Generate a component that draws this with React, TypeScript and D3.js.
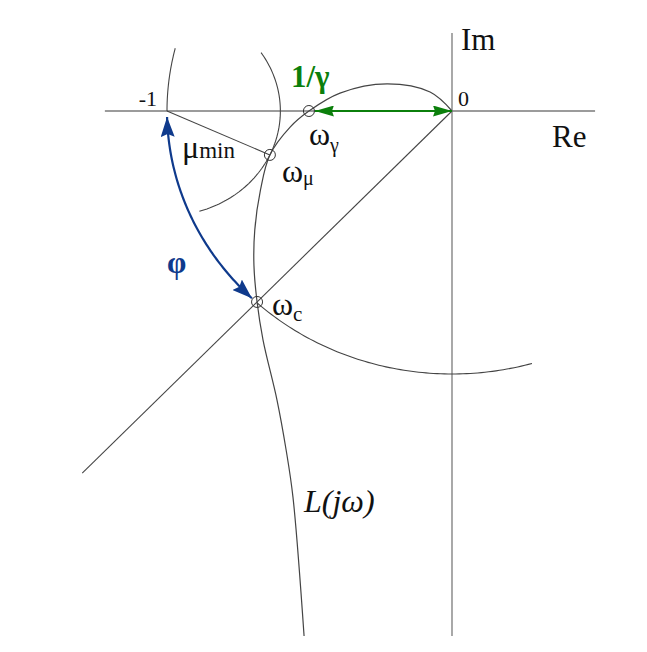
import React from "react";
import * as d3 from "d3";

// ---- data (complex plane units) ----
const reAxisRange = [-1.218, 0.502];
const imAxisRange = [-1.996, 0.297];

// Nyquist curve L(jω): real and imaginary parts
const nyqRe = [0, -0.077, -0.228, -0.393, -0.502, -0.568, -0.639, -0.672, -0.692, -0.695, -0.684, -0.663, -0.614, -0.582, -0.558, -0.519];
const nyqIm = [0, 0.072, 0.103, 0.068, 0, -0.061, -0.167, -0.3, -0.452, -0.586, -0.726, -0.871, -1.099, -1.289, -1.468, -1.996];

const omegaGamma = [-0.502, 0];
const omegaMu = [-0.639, -0.167];
const omegaC = [-0.684, -0.726];
const criticalPoint = [-1, 0];

// unit circle arcs (degrees)
const unitArcUpper = [166.2, 180];
const unitArcLower = [226.9, 286.3];
const phaseArc = [181.3, 225.4];
// μ circle arc around -1 (degrees)
const muArc = [33.9, -73.4];
// ray from origin through ωc, length
const rayLength = 1.892;

const W = 647;
const H = 652;

const x = d3.scaleLinear().domain([-1, 0]).range([167, 452]);
const y = d3.scaleLinear().domain([0, -1]).range([111, 374]);

const rad = (d: number) => (d * Math.PI) / 180;

function arcPath(cx: number, cy: number, r: number, a0: number, a1: number) {
  const n = 80;
  const pts: [number, number][] = d3.range(n + 1).map((i) => {
    const a = rad(a0 + ((a1 - a0) * i) / n);
    return [cx + r * Math.cos(a), cy + r * Math.sin(a)];
  });
  return d3
    .line<[number, number]>()
    .x((p) => x(p[0]))
    .y((p) => y(p[1]))(pts) as string;
}

export default function App() {
  const serif = "'Liberation Serif', 'Times New Roman', serif";
  const axisColor = "#7a7a7a";
  const curveColor = "#444";
  const blue = "#0f3a8c";
  const green = "#0b7f0b";

  const nyqPts: [number, number][] = nyqRe.map((r, i) => [r, nyqIm[i]]);
  const nyqPath = d3
    .line<[number, number]>()
    .x((p) => x(p[0]))
    .y((p) => y(p[1]))
    .curve(d3.curveCatmullRom.alpha(0.5))(nyqPts) as string;

  const muR = Math.hypot(omegaMu[0] - criticalPoint[0], omegaMu[1] - criticalPoint[1]);
  const cAng = Math.atan2(omegaC[1], omegaC[0]);
  const rayEnd = [rayLength * Math.cos(cAng), rayLength * Math.sin(cAng)];

  return (
    <svg width={W} height={H} style={{ position: "absolute", left: 0, top: 0, background: "#fff" }}>
      <defs>
        <marker id="ab" viewBox="0 0 20 14" refX="20" refY="7" markerWidth="20" markerHeight="14" markerUnits="userSpaceOnUse" orient="auto-start-reverse">
          <path d="M0,0 L20,7 L0,14 L3,7 Z" fill={blue} />
        </marker>
        <marker id="ag" viewBox="0 0 19 11" refX="19" refY="5.5" markerWidth="19" markerHeight="11" markerUnits="userSpaceOnUse" orient="auto-start-reverse">
          <path d="M0,0 L19,5.5 L0,11 L2,5.5 Z" fill={green} />
        </marker>
      </defs>

      {/* axes */}
      <line x1={x(reAxisRange[0])} x2={x(reAxisRange[1])} y1={y(0)} y2={y(0)} stroke={axisColor} strokeWidth={1.3} />
      <line x1={x(0)} x2={x(0)} y1={y(imAxisRange[1])} y2={y(imAxisRange[0])} stroke={axisColor} strokeWidth={1.3} />

      {/* ray through ωc */}
      <line x1={x(0)} y1={y(0)} x2={x(rayEnd[0])} y2={y(rayEnd[1])} stroke={curveColor} strokeWidth={1.1} />

      {/* unit circle arcs */}
      <path d={arcPath(0, 0, 1, unitArcUpper[0], unitArcUpper[1])} fill="none" stroke={curveColor} strokeWidth={1.1} />
      <path d={arcPath(0, 0, 1, unitArcLower[0], unitArcLower[1])} fill="none" stroke={curveColor} strokeWidth={1.1} />

      {/* μ circle */}
      <path d={arcPath(criticalPoint[0], criticalPoint[1], muR, muArc[0], muArc[1])} fill="none" stroke={curveColor} strokeWidth={1.1} />
      <line x1={x(criticalPoint[0])} y1={y(criticalPoint[1])} x2={x(omegaMu[0])} y2={y(omegaMu[1])} stroke={curveColor} strokeWidth={1.1} />

      {/* Nyquist curve */}
      <path d={nyqPath} fill="none" stroke={curveColor} strokeWidth={1.2} />

      {/* phase margin arc */}
      <path d={arcPath(0, 0, 1, phaseArc[0], phaseArc[1])} fill="none" stroke={blue} strokeWidth={2.2} markerStart="url(#ab)" markerEnd="url(#ab)" />

      {/* gain margin arrow */}
      <line x1={x(omegaGamma[0]) + 6} y1={y(0)} x2={x(0)} y2={y(0)} stroke={green} strokeWidth={2.2} markerStart="url(#ag)" markerEnd="url(#ag)" />

      {/* markers */}
      {[omegaGamma, omegaMu, omegaC].map((p, i) => (
        <circle key={i} cx={x(p[0])} cy={y(p[1])} r={5.5} fill="none" stroke="#333" strokeWidth={1} />
      ))}

      {/* labels */}
      <g fontFamily={serif} fill="#111">
        <text x={461} y={50} fontSize={31}>Im</text>
        <text x={552} y={147} fontSize={31}>Re</text>
        <text x={458} y={106} fontSize={22}>0</text>
        <text x={157} y={106} fontSize={22} textAnchor="end">-1</text>
        <text x={291} y={87} fontSize={31} fill={green} fontWeight="bold">1/γ</text>
        <text x={309} y={145} fontSize={32}>ω<tspan fontSize={20} dy={7}>γ</tspan></text>
        <text x={282} y={182} fontSize={32}>ω<tspan fontSize={20} dy={3}>μ</tspan></text>
        <text x={182} y={158} fontSize={32}>μ<tspan fontSize={23}>min</tspan></text>
        <text x={167} y={273} fontSize={31} fill={blue} fontWeight="bold">φ</text>
        <text x={272} y={315} fontSize={32}>ω<tspan fontSize={21} dy={6}>c</tspan></text>
        <text x={304} y={512} fontSize={32} fontStyle="italic">L(jω)</text>
      </g>
    </svg>
  );
}
